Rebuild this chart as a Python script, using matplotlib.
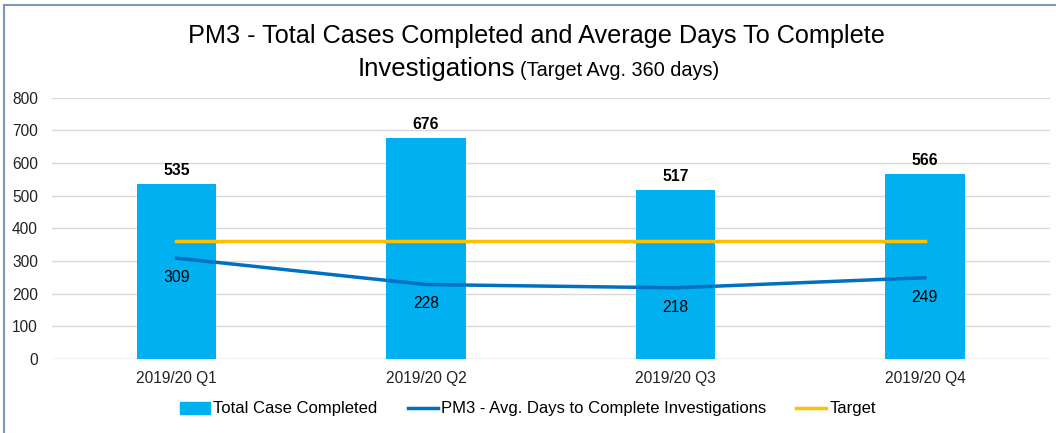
import matplotlib.pyplot as plt
from matplotlib.patches import Rectangle
from matplotlib.lines import Line2D

quarters = ['2019/20 Q1', '2019/20 Q2', '2019/20 Q3', '2019/20 Q4']
cases_completed = [535, 676, 517, 566]
avg_days = [309, 228, 218, 249]
target = [360, 360, 360, 360]

bar_color = '#00B0F0'
line_color = '#0070C0'
target_color = '#FFC000'

plt.rcParams['font.family'] = ['Liberation Sans', 'DejaVu Sans']

fig = plt.figure(figsize=(10.56, 4.33), dpi=100)
ax = fig.add_axes([0.049, 0.171, 0.945, 0.603])

x = range(len(quarters))
ax.bar(x, cases_completed, width=0.32, color=bar_color, zorder=2)
ax.plot(x, avg_days, color=line_color, lw=2.5, zorder=3)
ax.plot(x, target, color=target_color, lw=2.5, zorder=3)

for i, v in enumerate(cases_completed):
    ax.annotate(str(v), (i, v), xytext=(0, 10), textcoords='offset points',
                ha='center', va='center', fontsize=11.3, fontweight='bold')
for i, v in enumerate(avg_days):
    ax.annotate(str(v), (i, v), xytext=(0, -14), textcoords='offset points',
                ha='center', va='center', fontsize=11.3)

ax.set_xlim(-0.5, 3.5)
ax.set_ylim(0, 800)
ax.set_yticks(range(0, 801, 100))
ax.set_xticks(list(x))
ax.set_xticklabels(quarters)
ax.tick_params(length=0, labelsize=11.2, colors='#222222')
ax.tick_params(axis='y', pad=10)
ax.tick_params(axis='x', pad=9)
ax.yaxis.grid(True, color='#D9D9D9', lw=1)
ax.set_axisbelow(True)
for s in ax.spines.values():
    s.set_visible(False)
ax.axhline(0, color='#D9D9D9', lw=1, zorder=1)

fig.text(536 / 1056, 1 - 36 / 433, 'PM3 - Total Cases Completed and Average Days To Complete',
         ha='center', va='center', fontsize=18.2)
fig.text(515 / 1056, 1 - 69 / 433, 'Investigations', ha='right', va='center',
         fontsize=18.5)
fig.text(520 / 1056, 1 - 70 / 433, '(Target Avg. 360 days)', ha='left', va='center',
         fontsize=14.3)

handles = [Rectangle((0, 0), 1, 1, color=bar_color),
           Line2D([], [], color=line_color, lw=2.5),
           Line2D([], [], color=target_color, lw=2.5)]
labels = ['Total Case Completed', 'PM3 - Avg. Days to Complete Investigations', 'Target']
fig.legend(handles, labels, loc='center', bbox_to_anchor=(528 / 1056, 1 - 409 / 433), ncol=3,
           frameon=False, prop={'size': 12},
           handlelength=1.8, handletextpad=0.2, columnspacing=1.8)

# outer chart border
fig.add_artist(Line2D([0.004, 0.004], [0, 0.988], color='#7F98B8', lw=1.5,
                      transform=fig.transFigure))
fig.add_artist(Line2D([0.004, 1], [0.988, 0.988], color='#7F98B8', lw=1.5,
                      transform=fig.transFigure))

fig.savefig('out.png', dpi=100)
